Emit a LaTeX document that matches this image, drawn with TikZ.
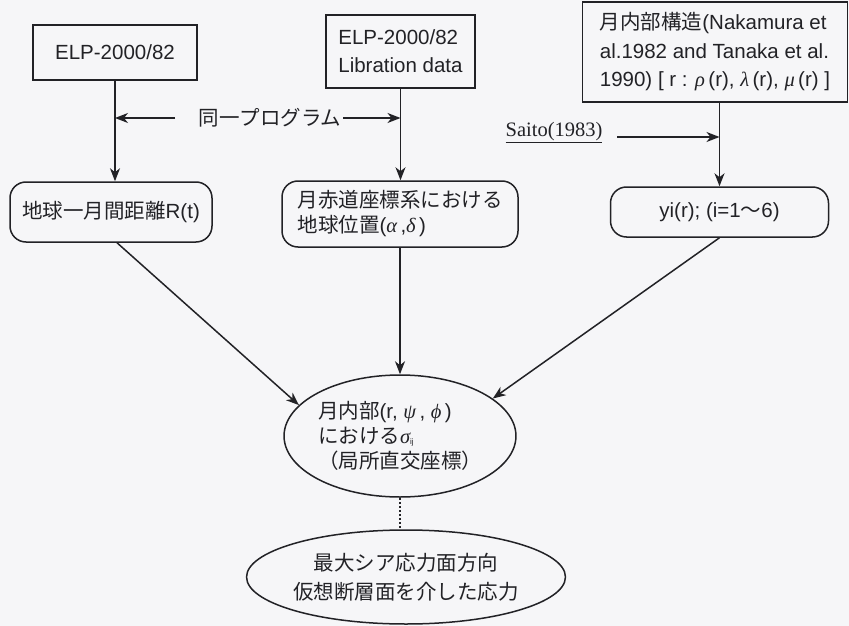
\documentclass[tikz,border=0pt]{standalone}
\usepackage{fontspec}
\setmainfont{Liberation Sans}
\newfontfamily\jp{Noto Sans CJK JP}
\newfontfamily\tms{Liberation Serif}
\newcommand{\gk}[1]{{\tms\itshape #1}}
\usetikzlibrary{arrows.meta,shapes.geometric}
\definecolor{bgc}{RGB}{246,246,248}
\definecolor{ink}{RGB}{34,34,38}
\begin{document}
\begin{tikzpicture}[x=1pt,y=-1pt,
  every node/.style={font=\fontsize{20.5}{25}\selectfont, text=ink},
  sq/.style={draw=ink, line width=1.5pt, inner sep=0pt},
  rb/.style={draw=ink, line width=1.5pt, rounded corners=16pt, inner sep=0pt},
  el/.style={draw=ink, ellipse, line width=1.5pt, inner sep=0pt},
  arr/.style={draw=ink, line width=1.5pt, -{Stealth[length=13pt,width=10pt,inset=4pt]}},
  dotl/.style={draw=ink, line width=1.5pt, dash pattern=on 2pt off 2pt},
]
\fill[bgc] (0,0) rectangle (849,626);
\useasboundingbox (0,0) rectangle (849,626);

% top boxes
\node[sq, minimum width=164pt, minimum height=55pt] (b1) at (115,52.5) {ELP-2000/82};
\node[sq, minimum width=149pt, minimum height=73pt, align=left,
      font=\fontsize{20.5}{28}\selectfont] (b2) at (400.5,51.5) {ELP-2000/82\\Libration data};
\node[sq, minimum width=265pt, minimum height=100pt, align=left,
      font=\fontsize{20.5}{28.5}\selectfont] (b3) at (715,52)
  {{\jp 月内部構造}(Nakamura et\\al.1982 and Tanaka et al.\\1990) [ r : \gk{ρ}\,(r), \gk{λ}\,(r), \gk{μ}\,(r) ]};

% rounded boxes
\node[rb, minimum width=202pt, minimum height=60pt] (rb1) at (111,212) {{\jp 地球一月間距離}R(t)};
\node[rb, minimum width=236pt, minimum height=66pt, align=left] (rb2) at (400,214)
  {{\jp 月赤道座標系における}\\{\jp 地球位置}(\gk{α}\,,\gk{δ}\,)};
\node[rb, minimum width=218pt, minimum height=50pt] (rb3) at (719.5,212) {yi(r); (i=1{\jp 〜}6)};

% ellipses
\node[el, minimum width=224pt, minimum height=122pt, align=left] (e1) at (400,436)
  {{\jp 月内部}(r, \gk{ψ}\,, \gk{ϕ}\,)\\{\jp における}\gk{σ}\raisebox{-1pt}{\fontsize{8}{8}\selectfont ij}\\{\jp （局所直交座標）}};
\node[el, minimum width=284pt, minimum height=94pt, align=center, font=\fontsize{20.5}{29}\selectfont] (e2) at (406,577)
  {{\jp 最大シア応力面方向}\\{\jp 仮想断層面を介した応力}};

% labels
\node[inner sep=0pt] (prog) at (270,118) {\jp 同一プログラム};
\node[inner sep=0pt] (saito) at (554,133) {\tms\underline{Saito(1983)}};

% coordinates
\coordinate (pl) at (175,118);
\coordinate (pr) at (343,118);
\coordinate (m1) at (115,118);
\coordinate (m2) at (400.5,118);
\coordinate (sa) at (617,137);
\coordinate (m3) at (719.5,137);

% connectors
\draw[arr] (b1.south) -- (b1.south |- rb1.north);
\draw[arr] (b2.south) -- (b2.south |- rb2.north);
\draw[arr] (rb3.north |- b3.south) -- (rb3.north);
\draw[arr] (pl) -- (m1);
\draw[arr] (pr) -- (m2);
\draw[arr] (sa) -- (m3);

\draw[arr] ([xshift=6pt]rb1.south) -- (e1.163);
\draw[arr] (rb2.south) -- (e1.north);
\draw[arr] (rb3.south) -- (e1.22);
\draw[dotl] (e1.south) -- (e1.south |- e2.north);
\end{tikzpicture}
\end{document}
